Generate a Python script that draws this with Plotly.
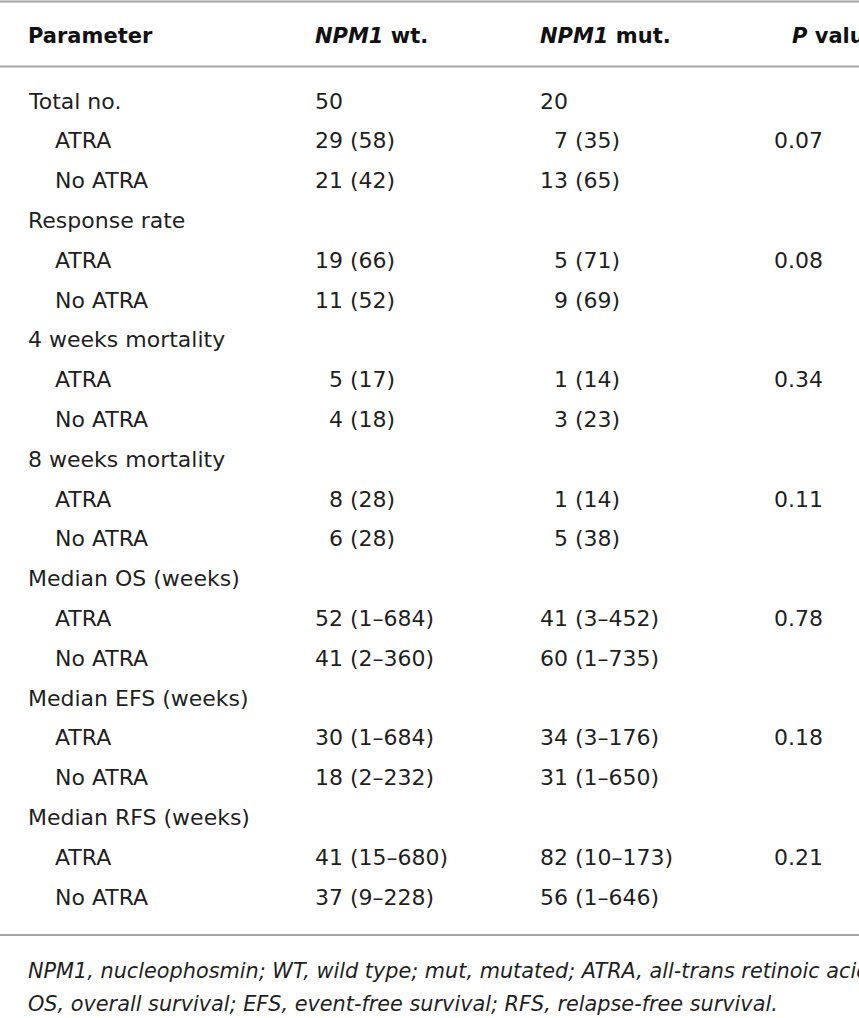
import plotly.graph_objects as go

# table content
headers = ["Parameter", "<i>NPM1</i> wt.", "<i>NPM1</i> mut.", "<i>P</i> value"]

parameters = [
    "Total no.", "ATRA", "No ATRA",
    "Response rate", "ATRA", "No ATRA",
    "4 weeks mortality", "ATRA", "No ATRA",
    "8 weeks mortality", "ATRA", "No ATRA",
    "Median OS (weeks)", "ATRA", "No ATRA",
    "Median EFS (weeks)", "ATRA", "No ATRA",
    "Median RFS (weeks)", "ATRA", "No ATRA",
]
is_subrow = [False, True, True] * 7

npm1_wt = [
    "50", "29 (58)", "21 (42)",
    "", "19 (66)", "11 (52)",
    "", "\u20075 (17)", "\u20074 (18)",
    "", "\u20078 (28)", "\u20076 (28)",
    "", "52 (1–684)", "41 (2–360)",
    "", "30 (1–684)", "18 (2–232)",
    "", "41 (15–680)", "37 (9–228)",
]
npm1_mut = [
    "20", "\u20077 (35)", "13 (65)",
    "", "\u20075 (71)", "\u20079 (69)",
    "", "\u20071 (14)", "\u20073 (23)",
    "", "\u20071 (14)", "\u20075 (38)",
    "", "41 (3–452)", "60 (1–735)",
    "", "34 (3–176)", "31 (1–650)",
    "", "82 (10–173)", "56 (1–646)",
]
p_values = [
    "", "0.07", "",
    "", "0.08", "",
    "", "0.34", "",
    "", "0.11", "",
    "", "0.78", "",
    "", "0.18", "",
    "", "0.21", "",
]
footnote = [
    "NPM1, nucleophosmin; WT, wild type; mut, mutated; ATRA, all-trans retinoic acid;",
    "OS, overall survival; EFS, event-free survival; RFS, relapse-free survival.",
]

W, H = 859, 1018
FONT = "DejaVu Sans"
body = dict(family=FONT, size=22, color="#1f1f1f")
head = dict(family=FONT, size=21, color="#111111", weight=700)
foot = dict(family=FONT, size=20.8, color="#1f1f1f", style="italic")

PAD = 2    # annotation box padding before the first glyph
OFF = 25   # x axis starts left of the page edge so edge labels stay in range
row_y = [101 + 39.8 * i for i in range(len(parameters))]

fig = go.Figure()


def text_col(xs, ys, texts, font):
    # xs are pixel positions of the first glyph
    for x, y, t in zip(xs, ys, texts):
        if not t:
            continue
        fig.add_annotation(
            x=x - PAD - OFF + OFF, y=y, text=t, xref="x", yref="y",
            xanchor="left", yanchor="middle", showarrow=False, font=font,
        )


n = len(parameters)
# header
text_col([3, 290, 515, 767], [36] * 4, headers, head)

# body columns
text_col([30 if s else 3 for s in is_subrow], row_y, parameters, body)
text_col([290] * n, row_y, npm1_wt, body)
text_col([515] * n, row_y, npm1_mut, body)
text_col([749] * n, row_y, p_values, body)

# footnote
text_col([3, 3], [971, 1004], footnote, foot)

line = dict(color="#a6a6a6", width=2)
for yy in (1.5, 66.5, 935):
    fig.add_shape(type="line", x0=-OFF, x1=W, y0=yy, y1=yy, line=line, layer="below")

# pixel p on the page == data x p (range keeps a margin left of 0 for safety)
fig.update_xaxes(range=[-OFF, W - OFF], visible=False, fixedrange=True)
fig.update_yaxes(range=[H, 0], visible=False, fixedrange=True)
fig.update_layout(
    width=W, height=H,
    margin=dict(l=0, r=0, t=0, b=0),
    plot_bgcolor="white", paper_bgcolor="white",
)

# drop the browser's default 8px body margin so the figure fills the window
fig.write_html(
    "out.html",
    config={"displayModeBar": False},
    post_script="document.body.style.margin='0px';",
)
